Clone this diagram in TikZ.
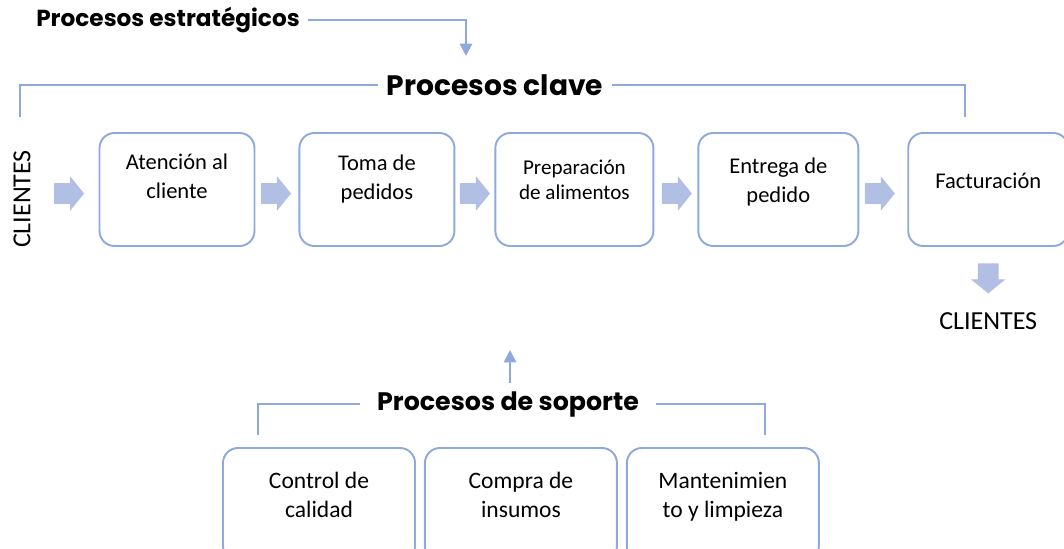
\documentclass[tikz,border=0pt]{standalone}
\usepackage{fontspec}
\setmainfont{Carlito}
\newfontfamily\headfont{Poppins}
\usepackage{xcolor}
\usepackage{tikz}
\usetikzlibrary{positioning,shapes.arrows,arrows.meta}
\definecolor{lineblue}{HTML}{8EA9DB}
\definecolor{arrowblue}{HTML}{B0BFE3}
% text pinned to the top of a box: width, first baseline, text
\newcommand{\toptext}[3]{\parbox[c][2.26cm][t]{#1}{\centering\rule{0pt}{#2}#3\par}}

\begin{document}
\begin{tikzpicture}[
  node distance=0.86cm,
  procbox/.style={rectangle, draw=lineblue, line width=1.1pt, rounded corners=0.3cm, minimum width=3.1cm, inner sep=0pt, font=\fontsize{12.8}{17}\selectfont},
  supbox/.style={procbox, minimum width=3.84cm, font=\fontsize{13.4}{17}\selectfont},
  blockarr/.style={single arrow, fill=arrowblue, draw=none, inner sep=0.2cm, minimum height=0.6cm, single arrow head extend=0.14cm, single arrow tip angle=102},
  title/.style={font=\headfont\bfseries\fontsize{16}{18}\selectfont, inner sep=0.16cm},
  line/.style={draw=lineblue, line width=1.1pt},
  tip/.style={-{Triangle[width=7pt,length=7pt]}}
]
\useasboundingbox (0,0) rectangle (21.28,10.96);
\clip (0,0) rectangle (21.28,10.96);

% key processes
\node[procbox] (aten) at (3.54,7.17) {\toptext{2.9cm}{0.72cm}{Atención al\\cliente}};
\node[procbox, right=of aten] (toma) {\toptext{2.9cm}{0.74cm}{Toma de\\pedidos}};
\node[procbox, right=0.78cm of toma, minimum width=3.16cm] (prep) {\toptext{2.9cm}{0.82cm}{\fontsize{12}{14.7}\selectfont Preparación\\de alimentos}};
\node[procbox, right=0.86cm of prep, minimum width=3.2cm] (entr) {\toptext{2.9cm}{0.8cm}{Entrega de\\pedido}};
\node[procbox, right=0.96cm of entr, minimum width=3.2cm] (fact) {\toptext{2.9cm}{1.1cm}{Facturación}};

\node[rotate=90, font=\fontsize{14.8}{16}\selectfont] (cliin) at (0.44,6.98) {CLIENTES};
\node[blockarr, left=0.28cm of aten, yshift=-0.08cm] (a0) {};
\node[blockarr, left=0.14cm of toma, yshift=-0.08cm] (a1) {};
\node[blockarr, left=0.08cm of prep, yshift=-0.08cm] (a2) {};
\node[blockarr, left=0.1cm of entr, yshift=-0.08cm] (a3) {};
\node[blockarr, left=0.24cm of fact, yshift=-0.08cm] (a4) {};
\node[blockarr, shape border rotate=270, below=0.32cm of fact] (a5) {};
\node[below=0.25cm of a5, font=\fontsize{14.8}{16}\selectfont] (cliout) {CLIENTES};

% titles
\node[title] (clave) at (9.9,9.26) {Procesos clave};
\node[title, font=\headfont\bfseries\fontsize{13.2}{15}\selectfont] (estr) at (3.36,10.56) {Procesos estratégicos};
\node[title, font=\headfont\bfseries\fontsize{14.4}{16}\selectfont, inner xsep=0.34cm] (sop) at (10.16,2.88) {Procesos de soporte};

\coordinate (kL) at (0.4,8.62);
\coordinate (kR) at (19.3,8.62);
\coordinate (estrEnd) at (9.32,9.84);
\coordinate (sL) at (5.16,2.26);
\coordinate (sR) at (15.3,2.26);
\coordinate (sopUp) at (10.2,3.96);

\draw[line] (kL) |- (clave.west);
\draw[line] (clave.east) -| (kR);
\draw[line, tip] (estr.east) -| (estrEnd);
\draw[line] (sL) |- (sop.west);
\draw[line] (sop.east) -| (sR);
\draw[line, tip] (sop.north -| sopUp) -- (sopUp);

% support processes
\node[supbox] (ctrl) at (6.38,0.87) {\toptext{3.6cm}{0.8cm}{Control de\\calidad}};
\node[supbox, right=0.16cm of ctrl] (comp) {\toptext{3.6cm}{0.8cm}{Compra de\\insumos}};
\node[supbox, right=0.16cm of comp] (mant) {\toptext{3.6cm}{0.8cm}{Mantenimien\\to y limpieza}};
\end{tikzpicture}
\end{document}
